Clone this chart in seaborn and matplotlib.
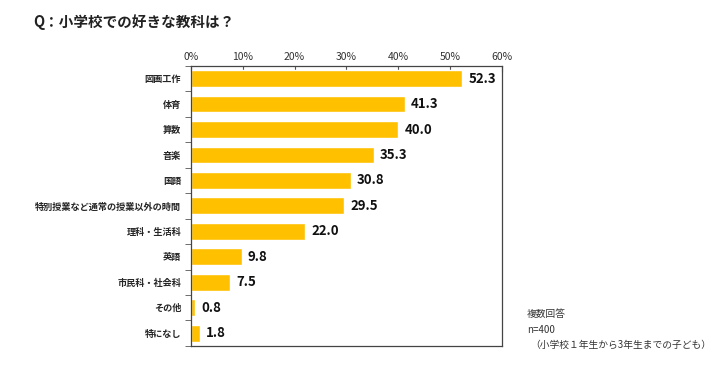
import matplotlib
matplotlib.use("Agg")
import matplotlib.pyplot as plt
import seaborn as sns
import numpy as np
from matplotlib.ticker import FixedLocator, PercentFormatter

subjects = ['図画工作', '体育', '算数', '音楽', '国語', '特別授業など通常の授業以外の時間',
            '理科・生活科', '英語', '市民科・社会科', 'その他', '特になし']
values = [52.3, 41.3, 40.0, 35.3, 30.8, 29.5, 22.0, 9.8, 7.5, 0.8, 1.8]
x_ticks = [0, 10, 20, 30, 40, 50, 60]

sns.set_style("white")
plt.rcParams['font.family'] = ['Noto Sans CJK JP', 'DejaVu Sans']

fig = plt.figure(figsize=(7.12, 3.66), dpi=100)
ax = fig.add_axes([0.268, 0.055, 0.437, 0.765])

sns.barplot(x=values, y=subjects, orient='h', color='#FFC000', width=0.66,
            saturation=1, ax=ax)

for i, v in enumerate(values):
    ax.text(v + 1.2, i, f'{v:.1f}', va='center', ha='left', fontsize=9.5,
            fontweight='bold', color='#111111')

ax.set_xlim(0, 60)
ax.set_ylim(len(subjects) - 0.5, -0.5)
ax.set_xticks(x_ticks)
ax.xaxis.set_major_formatter(PercentFormatter(decimals=0))
ax.xaxis.tick_top()
ax.tick_params(axis='x', direction='in', length=4, color='#555555', labelsize=7.5,
               pad=3, labelcolor='#333333')
ax.set_xlabel('')
ax.set_ylabel('')

ax.yaxis.set_minor_locator(FixedLocator(np.arange(-0.5, len(subjects), 1)))
ax.tick_params(axis='y', which='major', length=0, labelsize=6.6, pad=7)
ax.tick_params(axis='y', which='minor', length=4, direction='out', color='#555555', left=True)
for lab in ax.get_yticklabels():
    lab.set_fontweight('bold')

for s in ax.spines.values():
    s.set_visible(True)
    s.set_color('#444444')
    s.set_linewidth(0.9)

fig.text(0.046, 0.925, 'Q：小学校での好きな教科は？', fontsize=10.5, fontweight='bold',
         color='#222222')
fig.text(0.74, 0.135, '複数回答', fontsize=7, color='#333333')
fig.text(0.74, 0.09, 'n=400', fontsize=7, color='#333333')
fig.text(0.745, 0.05, '（小学校１年生から3年生までの子ども）', fontsize=7, color='#333333')

fig.savefig('out.png', dpi=100, facecolor='white')
